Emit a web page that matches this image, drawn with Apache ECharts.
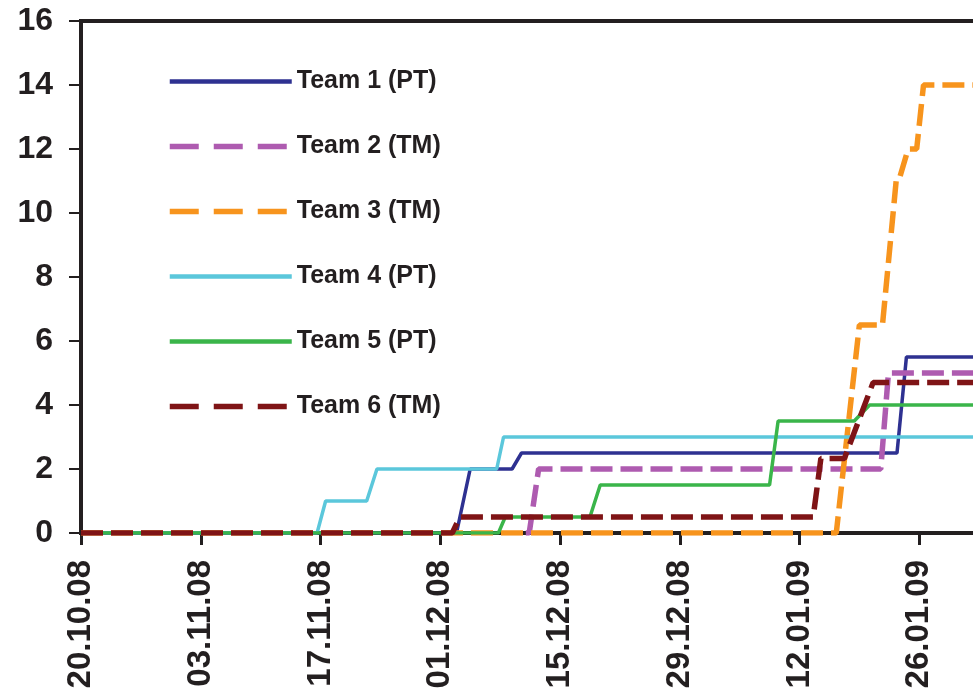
<!DOCTYPE html>
<html><head><meta charset="utf-8">
<script src="https://cdn.jsdelivr.net/npm/echarts@6/dist/echarts.min.js"></script>
<style>html,body{margin:0;padding:0;background:#fff}#c{width:973px;height:691px}</style>
</head><body><div id="c"></div>
<script>
// X tick labels (every 14 days from 20.10.08)
const tickLabels = ['20.10.08','03.11.08','17.11.08','01.12.08','15.12.08','29.12.08','12.01.09','26.01.09','09.02.09'];
const seriesNames = ['Team 1 (PT)','Team 2 (TM)','Team 3 (TM)','Team 4 (PT)','Team 5 (PT)','Team 6 (TM)'];
// x values are days since 20.10.08
const team1Days = [0, 43.9, 45.5, 50.4, 51.5, 95.4, 96.5, 112];
const team1Vals = [0, 0, 2, 2, 2.5, 2.5, 5.5, 5.5];
const team2Days = [52.0, 52.4, 53.5, 93.5, 94.4, 112];
const team2Vals = [0, 0, 2, 2, 5, 5];
const team3Days = [0, 88.3, 91.0, 93.7, 95.3, 95.6, 96.7, 97.7, 98.5, 112];
const team3Vals = [0, 0, 6.5, 6.5, 11, 11, 12, 12, 14, 14];
const team4Days = [0, 27.6, 28.6, 33.4, 34.6, 48.6, 49.4, 112];
const team4Vals = [0, 0, 1, 1, 2, 2, 3, 3];
const team5Days = [0, 48.8, 49.6, 59.5, 60.7, 80.5, 81.5, 90.4, 92.2, 112];
const team5Vals = [0, 0, 0.5, 0.5, 1.5, 1.5, 3.5, 3.5, 4, 4];
const team6Days = [0, 43.4, 44.3, 85.6, 86.5, 89.25, 92.6, 112];
const team6Vals = [0, 0, 0.5, 0.5, 2.33, 2.33, 4.7, 4.7];

const allDays = [team1Days, team2Days, team3Days, team4Days, team5Days, team6Days];
const allVals = [team1Vals, team2Vals, team3Vals, team4Vals, team5Vals, team6Vals];
const colors = ['#2e3191', '#ae5bb0', '#f7941d', '#5bc7db', '#3ab54a', '#7f1416'];
const dashed = [false, true, true, false, false, true];

const FONT = '"Liberation Sans", Arial, sans-serif';
const TXT = '#231f20';

const chart = echarts.init(document.getElementById('c'), null, {renderer: 'canvas'});
const series = seriesNames.map((name, i) => ({
  name: name,
  type: 'line',
  symbol: 'none',
  smooth: false,
  animation: false,
  data: allDays[i].map((d, j) => [d, allVals[i][j]]),
  lineStyle: {
    color: colors[i],
    width: dashed[i] ? 5.5 : 3.5,
    type: dashed[i] ? [22, 8] : 'solid'
  },
  itemStyle: {color: colors[i]}
}));

chart.setOption({
  animation: false,
  backgroundColor: '#fff',
  grid: {
    left: 81, right: -66, top: 21, bottom: 158,
    outerBoundsMode: 'none', containLabel: false,
    show: true, borderColor: TXT, borderWidth: 4, backgroundColor: 'transparent'
  },
  legend: {
    orient: 'vertical', left: 167, top: 69, padding: 0,
    itemWidth: 122, itemHeight: 25, itemGap: 40,
    selectedMode: false,
    textStyle: {fontSize: 25, fontWeight: 'bold', color: TXT, fontFamily: FONT, lineHeight: 25},
    itemStyle: {opacity: 0, color: 'transparent', borderWidth: 0},
    data: seriesNames.map((n, i) => ({
      name: n,
      itemStyle: {opacity: 0, color: 'transparent', borderWidth: 0},
      lineStyle: {width: dashed[i] ? 5.5 : 4.5, type: dashed[i] ? [29, 15] : 'solid', color: colors[i]}
    }))
  },
  xAxis: {
    type: 'value', min: 0, max: 112, interval: 14,
    axisLine: {show: true, onZero: false, lineStyle: {color: TXT, width: 4}},
    axisTick: {show: true, length: 12, lineStyle: {color: TXT, width: 3}},
    splitLine: {show: false},
    axisLabel: {
      rotate: 90, margin: 27, fontSize: 33, fontWeight: 'bold', color: TXT, fontFamily: FONT,
      formatter: v => tickLabels[Math.round(v / 14)] || ''
    }
  },
  yAxis: {
    type: 'value', min: 0, max: 16, interval: 2,
    axisLine: {show: true, lineStyle: {color: TXT, width: 4}},
    axisTick: {show: true, length: 12, lineStyle: {color: TXT, width: 2}},
    splitLine: {show: false},
    axisLabel: {margin: 28, fontSize: 32, fontWeight: 'bold', color: TXT, fontFamily: FONT}
  },
  series: series
});
</script></body></html>
